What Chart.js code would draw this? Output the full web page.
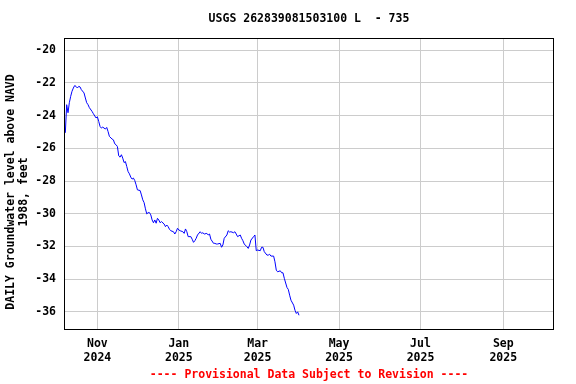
<!DOCTYPE html>
<html>
<head>
<meta charset="utf-8">
<script src="https://cdn.jsdelivr.net/npm/chart.js@4"></script>
<style>
  body { margin: 0; background: #fff; }
  #wrap { width: 576px; height: 384px; }
</style>
</head>
<body>
<div id="wrap"><canvas id="chart" width="576" height="384"></canvas></div>
<script>
const chartTitle = 'USGS 262839081503100 L  - 735'
const yTitle = ['DAILY Groundwater level above NAVD', '1988, feet']
const footer = '---- Provisional Data Subject to Revision ----'

const dates = [
  '2024-10-08', '2024-10-09', '2024-10-10', '2024-10-11', '2024-10-12', '2024-10-13', '2024-10-14',
  '2024-10-15', '2024-10-16', '2024-10-17', '2024-10-18', '2024-10-19', '2024-10-20', '2024-10-22',
  '2024-10-23', '2024-10-24', '2024-10-25', '2024-10-26', '2024-10-28', '2024-10-29', '2024-10-31',
  '2024-11-01', '2024-11-02', '2024-11-03', '2024-11-04', '2024-11-05', '2024-11-07', '2024-11-08',
  '2024-11-09', '2024-11-10', '2024-11-12', '2024-11-13', '2024-11-14', '2024-11-15', '2024-11-16',
  '2024-11-17', '2024-11-18', '2024-11-19', '2024-11-20', '2024-11-21', '2024-11-22', '2024-11-23',
  '2024-11-24', '2024-11-25', '2024-11-26', '2024-11-27', '2024-11-28', '2024-11-29', '2024-11-30',
  '2024-12-01', '2024-12-03', '2024-12-04', '2024-12-05', '2024-12-06', '2024-12-07', '2024-12-08',
  '2024-12-09', '2024-12-10', '2024-12-11', '2024-12-12', '2024-12-13', '2024-12-14', '2024-12-15',
  '2024-12-16', '2024-12-17', '2024-12-18', '2024-12-19', '2024-12-21', '2024-12-22', '2024-12-23',
  '2024-12-24', '2024-12-25', '2024-12-26', '2024-12-28', '2024-12-29', '2024-12-30', '2024-12-31',
  '2025-01-01', '2025-01-02', '2025-01-04', '2025-01-05', '2025-01-06', '2025-01-07', '2025-01-08',
  '2025-01-10', '2025-01-11', '2025-01-12', '2025-01-13', '2025-01-14', '2025-01-15', '2025-01-17',
  '2025-01-18', '2025-01-19', '2025-01-20', '2025-01-22', '2025-01-23', '2025-01-24', '2025-01-25',
  '2025-01-27', '2025-01-28', '2025-01-29', '2025-01-30', '2025-02-01', '2025-02-02', '2025-02-03',
  '2025-02-04', '2025-02-06', '2025-02-07', '2025-02-08', '2025-02-09', '2025-02-11', '2025-02-12',
  '2025-02-13', '2025-02-14', '2025-02-16', '2025-02-17', '2025-02-18', '2025-02-19', '2025-02-21',
  '2025-02-22', '2025-02-23', '2025-02-24', '2025-02-26', '2025-02-27', '2025-02-28', '2025-03-01',
  '2025-03-03', '2025-03-04', '2025-03-05', '2025-03-06', '2025-03-08', '2025-03-09', '2025-03-10',
  '2025-03-11', '2025-03-13', '2025-03-14', '2025-03-15', '2025-03-16', '2025-03-18', '2025-03-19',
  '2025-03-20', '2025-03-21', '2025-03-23', '2025-03-24', '2025-03-25', '2025-03-26', '2025-03-28',
  '2025-03-29', '2025-03-30', '2025-03-31', '2025-04-01'
]

const levels = [
  -25.05, -23.33, -23.82, -23.21, -22.82, -22.51, -22.31,
  -22.16, -22.21, -22.31, -22.21, -22.24, -22.41, -22.61,
  -22.92, -23.21, -23.33, -23.51, -23.74, -23.88, -24.14,
  -24.07, -24.35, -24.66, -24.76, -24.70, -24.82, -24.72,
  -24.97, -25.27, -25.43, -25.48, -25.72, -25.78, -25.89,
  -26.46, -26.54, -26.39, -26.60, -26.87, -26.81, -27.11,
  -27.42, -27.56, -27.76, -27.88, -27.82, -27.97, -28.23,
  -28.54, -28.58, -28.85, -29.15, -29.32, -29.70, -30.01,
  -29.93, -29.93, -30.07, -30.38, -30.55, -30.38, -30.58,
  -30.28, -30.38, -30.55, -30.48, -30.63, -30.79, -30.69,
  -30.79, -30.95, -31.04, -31.10, -31.24, -31.10, -30.89,
  -30.99, -31.04, -31.10, -31.20, -30.93, -31.10, -31.40,
  -31.40, -31.56, -31.75, -31.65, -31.50, -31.30, -31.10,
  -31.20, -31.16, -31.24, -31.20, -31.30, -31.24, -31.56,
  -31.81, -31.81, -31.85, -31.85, -31.81, -32.05, -31.91,
  -31.50, -31.30, -31.04, -31.12, -31.10, -31.16, -31.10,
  -31.24, -31.40, -31.30, -31.50, -31.65, -31.85, -32.02,
  -32.12, -31.91, -31.61, -31.40, -31.30, -32.26, -32.22,
  -32.26, -32.05, -32.05, -32.32, -32.53, -32.53, -32.48,
  -32.59, -32.59, -32.94, -33.45, -33.55, -33.49, -33.61,
  -33.61, -33.95, -34.51, -34.63, -34.98, -35.29, -35.59,
  -35.90, -36.10, -36.00, -36.21
]

const tickDates = ['2024-11-01', '2025-01-01', '2025-03-01', '2025-05-01', '2025-07-01', '2025-09-01']
const tickLabels = [['Nov', '2024'], ['Jan', '2025'], ['Mar', '2025'], ['May', '2025'], ['Jul', '2025'], ['Sep', '2025']]
const yTicks = [-36, -34, -32, -30, -28, -26, -24, -22, -20]

// days counted from 1 Nov 2024, so the x axis is a plain linear scale
const day0 = Date.parse('2024-11-01')
const toDay = s => (Date.parse(s) - day0) / 864e5
const tickDays = tickDates.map(toDay)

const FONT = 'bold 11.5px "DejaVu Sans Mono", "Liberation Mono", monospace'
const tickFont = { family: '"DejaVu Sans Mono", "Liberation Mono", monospace', size: 11.5, weight: 'bold' }

const frameAndText = {
  id: 'frameAndText',
  afterDraw(chart) {
    const { ctx, chartArea: a } = chart
    const cx = (a.left + a.right) / 2
    ctx.save()
    ctx.strokeStyle = '#000'
    ctx.lineWidth = 1
    ctx.strokeRect(a.left + 0.5, a.top + 0.5, a.right - a.left - 1, a.bottom - a.top)
    ctx.font = FONT
    ctx.textAlign = 'center'
    ctx.textBaseline = 'middle'
    ctx.fillStyle = '#000'
    ctx.fillText(chartTitle, cx, 19)
    ctx.fillStyle = '#ff0000'
    ctx.fillText(footer, cx, 375)
    ctx.fillStyle = '#000'
    ctx.translate(11, 192)
    ctx.rotate(-Math.PI / 2)
    ctx.fillText(yTitle[0], 0, 0)
    ctx.fillText(yTitle[1], 0, 12.7)
    ctx.restore()
  }
}

new Chart(document.getElementById('chart'), {
  type: 'line',
  data: {
    datasets: [{
      data: dates.map((d, i) => ({ x: toDay(d), y: levels[i] })),
      borderColor: '#0000ff',
      borderWidth: 1,
      pointRadius: 0,
      tension: 0,
      fill: false
    }]
  },
  options: {
    responsive: false,
    animation: false,
    layout: { padding: { top: 38, right: 22, bottom: 0, left: 0 } },
    plugins: {
      legend: { display: false },
      tooltip: { enabled: false }
    },
    scales: {
      x: {
        type: 'linear',
        min: -25,
        max: 342,
        afterFit: s => { s.height = 55 },
        afterBuildTicks: s => { s.ticks = tickDays.map(v => ({ value: v })) },
        grid: { color: '#cccccc', drawTicks: false },
        border: { display: false },
        ticks: {
          autoSkip: false,
          maxRotation: 0,
          padding: 8,
          color: '#000',
          font: tickFont,
          callback: v => tickLabels[tickDays.indexOf(v)]
        }
      },
      y: {
        min: -37.05,
        max: -19.25,
        afterFit: s => { s.width = 64 },
        afterBuildTicks: s => { s.ticks = yTicks.map(v => ({ value: v })) },
        grid: { color: '#cccccc', drawTicks: false },
        border: { display: false },
        ticks: {
          padding: 8,
          color: '#000',
          font: tickFont,
          callback: v => String(v)
        }
      }
    }
  },
  plugins: [frameAndText]
})
</script>
</body>
</html>
